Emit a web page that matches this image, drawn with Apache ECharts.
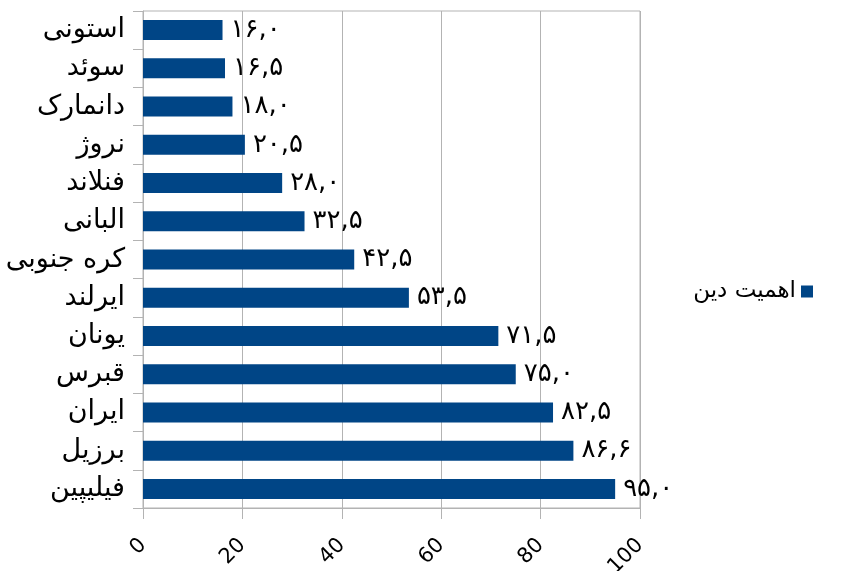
<!DOCTYPE html>
<html>
<head>
<meta charset="utf-8">
<script src="https://cdn.jsdelivr.net/npm/echarts@6/dist/echarts.min.js"></script>
<style>html,body{margin:0;padding:0;background:#fff}#c{width:842px;height:571px}</style>
</head>
<body>
<div id="c"></div>
<script>
const categories = ['استونی','سوئد','دانمارک','نروژ','فنلاند','البانی','کره جنوبی','ایرلند','یونان','قبرس','ایران','برزیل','فیلیپین'];
const values = [16.0,16.5,18.0,20.5,28.0,32.5,42.5,53.5,71.5,75.0,82.5,86.6,95.0];
const seriesName = 'اهمیت دین';
const xMin = 0, xMax = 100, xStep = 20;

const faDigits = '۰۱۲۳۴۵۶۷۸۹';
function toFa(v){
  return v.toFixed(1).replace(/[0-9]/g, d => faDigits[+d]).replace('.', ',');
}
const FONT = 'DejaVu Sans';
const GRAY = '#b3b3b3';
const chart = echarts.init(document.getElementById('c'), null, {renderer:'canvas'});
chart.setOption({
  animation:false,
  textStyle:{fontFamily:FONT},
  grid:{left:143,right:202,top:11,bottom:63,containLabel:false,outerBoundsMode:'none',
    show:true,borderColor:GRAY,borderWidth:1,backgroundColor:'transparent'},
  legend:{
    data:[seriesName], orient:'vertical', right:24, top:275, align:'right',
    icon:'rect', itemWidth:12, itemHeight:12, itemGap:5,
    textStyle:{fontFamily:FONT,fontSize:23,color:'#000'}
  },
  xAxis:{
    type:'value', min:xMin, max:xMax, interval:xStep,
    axisLine:{show:true,lineStyle:{color:GRAY}},
    axisTick:{show:true,length:11,lineStyle:{color:GRAY}},
    splitLine:{show:true,lineStyle:{color:GRAY}},
    axisLabel:{rotate:45,margin:34,fontFamily:FONT,fontSize:21,color:'#000'}
  },
  yAxis:{
    type:'category', data:categories, inverse:true,
    axisLine:{show:true,lineStyle:{color:GRAY}},
    axisTick:{show:true,length:10,lineStyle:{color:GRAY}},
    axisLabel:{margin:18,fontFamily:FONT,fontSize:27,color:'#000'}
  },
  series:[{
    name:seriesName, type:'bar', data:values, barWidth:20,
    itemStyle:{color:'#004586'},
    label:{show:true,position:'right',distance:8,fontFamily:FONT,fontSize:26,color:'#000',
      formatter:p=>toFa(p.value)}
  }]
});
</script>
</body>
</html>
